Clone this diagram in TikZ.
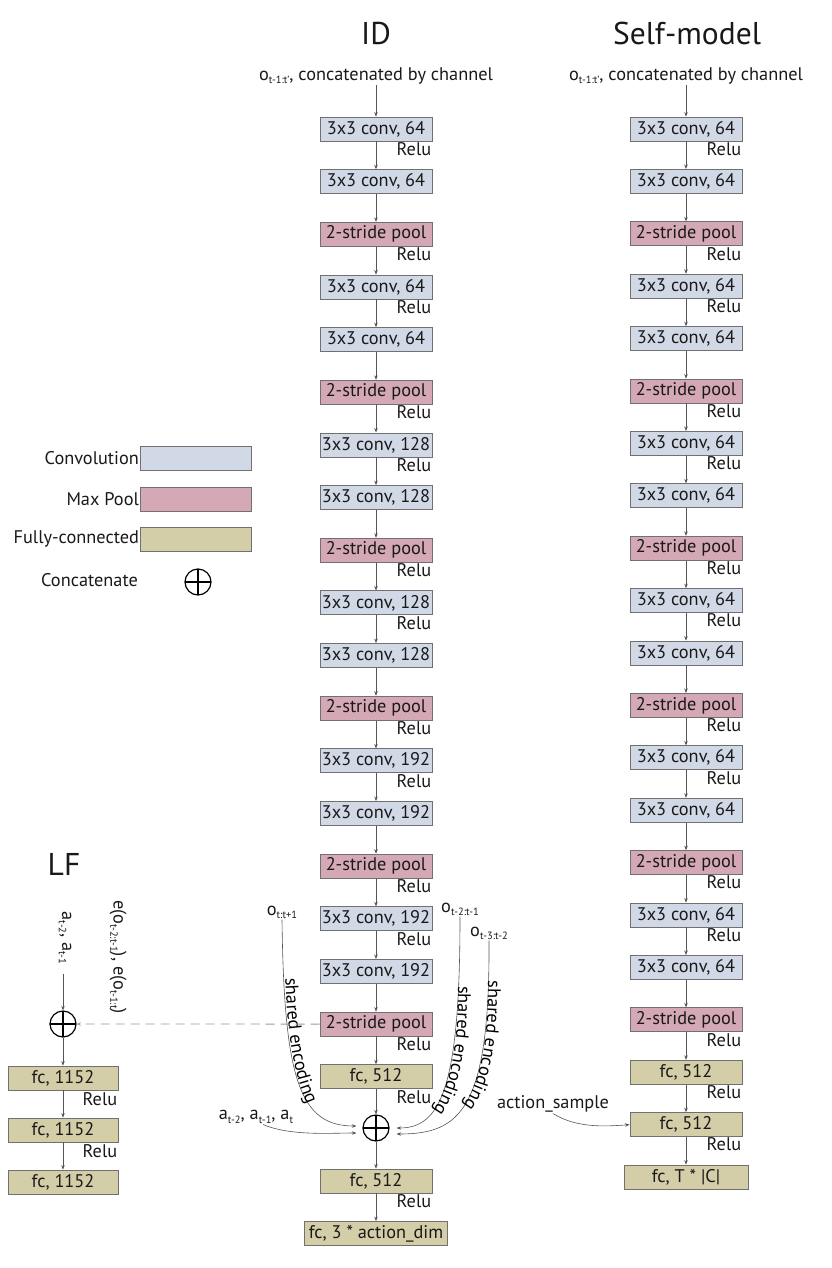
\documentclass[tikz,border=0pt]{standalone}
\usepackage{fontspec}
\setmainfont{PT Sans}
\usetikzlibrary{arrows.meta,decorations.text,calc}
\definecolor{convcol}{HTML}{D1D9E6}
\definecolor{poolcol}{HTML}{D4A8B5}
\definecolor{fccol}{HTML}{D3CDA8}
\definecolor{bordcol}{HTML}{707070}
\definecolor{arrcol}{HTML}{555555}
\definecolor{dashcol}{HTML}{9A9A9A}
\newcommand{\bxfont}{\fontsize{18.3}{21}\selectfont}
\newcommand{\hdfont}{\fontsize{31.5}{36}\selectfont}
\newcommand{\sbs}[1]{\raisebox{-0.35ex}{\fontsize{10.5}{12}\selectfont #1}}
\begin{document}
\begin{tikzpicture}[x=1pt,y=-1pt,
 blk/.style={draw=bordcol, line width=0.8pt, minimum width=112pt, minimum height=24pt, inner sep=0pt, font=\bxfont, text=black!90},
 conv/.style={blk, fill=convcol},
 pool/.style={blk, fill=poolcol},
 fcb/.style={blk, fill=fccol},
 relu/.style={font=\bxfont, inner sep=0pt, anchor=east, text=black!90},
 lbl/.style={font=\bxfont, inner sep=1pt, text=black!90},
 hdr/.style={font=\hdfont, inner sep=0pt, text=black!90},
 arr/.style={draw=arrcol, line width=0.6pt, -{Stealth[length=4.5pt,width=3.5pt]}},
 dasharr/.style={draw=dashcol, line width=0.9pt, dash pattern=on 9pt off 6pt, -{Stealth[length=4.5pt,width=3.5pt]}},
 cat/.style={circle, draw=black, line width=1.2pt, minimum size=26pt, inner sep=0pt,
   path picture={\draw[line width=1.2pt] (path picture bounding box.north) -- (path picture bounding box.south)
     (path picture bounding box.west) -- (path picture bounding box.east);}},
 enc/.style={decorate, decoration={text along path, text={|\bxfont|shared encoding}, text align=center}},
]
\useasboundingbox (0,0) rectangle (831,1268);

% ---------- headers ----------
\node[hdr] (hid) at (376,33) {ID};
\node[hdr] (hsm) at (687,33) {Self-model};
\node[hdr] (hlf) at (64,864) {LF};

% ---------- legend ----------
\node[blk, fill=convcol, minimum width=111pt] (lgc) at (196,458) {};
\node[blk, fill=poolcol, minimum width=111pt] (lgp) at (196,499) {};
\node[blk, fill=fccol, minimum width=111pt] (lgf) at (196,539) {};
\node[lbl, anchor=east] (lgct) at (lgc.west) {Convolution};
\node[lbl, anchor=east] (lgpt) at (lgp.west) {Max Pool};
\node[lbl, anchor=east] (lgft) at (lgf.west) {Fully-connected};
\node[cat] (lgcat) at (198,582) {};
\node[lbl, anchor=east] (lgcatt) at (139,580) {Concatenate};

% ---------- ID column ----------
\node[lbl] (idin) at (376,76) {o\sbs{t-1:t'}, concatenated by channel};
\node[conv] (id1) at (376,129) {3x3 conv, 64};
\node[conv] (id2) at (376,181.65) {3x3 conv, 64};
\node[pool] (id3) at (376,234.3) {2-stride pool};
\node[conv] (id4) at (376,286.95) {3x3 conv, 64};
\node[conv] (id5) at (376,339.6) {3x3 conv, 64};
\node[pool] (id6) at (376,392.25) {2-stride pool};
\node[conv] (id7) at (376,444.9) {3x3 conv, 128};
\node[conv] (id8) at (376,497.55) {3x3 conv, 128};
\node[pool] (id9) at (376,550.2) {2-stride pool};
\node[conv] (id10) at (376,602.85) {3x3 conv, 128};
\node[conv] (id11) at (376,655.5) {3x3 conv, 128};
\node[pool] (id12) at (376,708.15) {2-stride pool};
\node[conv] (id13) at (376,760.8) {3x3 conv, 192};
\node[conv] (id14) at (376,813.45) {3x3 conv, 192};
\node[pool] (id15) at (376,866.1) {2-stride pool};
\node[conv] (id16) at (376,918.75) {3x3 conv, 192};
\node[conv] (id17) at (376,971.4) {3x3 conv, 192};
\node[pool] (id18) at (376,1024.05) {2-stride pool};
\node[fcb] (id19) at (376,1076.7) {fc, 512};
\node[cat] (idp) at (376,1128) {};
\node[fcb] (id20) at (376,1181) {fc, 512};
\node[fcb, minimum width=143pt] (id21) at (376,1233.5) {fc, 3 * action\_dim};

\draw[arr] (idin) -- (id1);
\foreach \a/\b in {1/2,2/3,3/4,4/5,5/6,6/7,7/8,8/9,9/10,10/11,11/12,12/13,13/14,14/15,15/16,16/17,17/18,18/19,20/21}
  \draw[arr] (id\a) -- (id\b);
\draw[arr] (id19) -- (idp);
\draw[arr] (idp) -- (id20);
\foreach \a in {1,3,4,6,7,9,10,12,13,15,16,18,19,20}
  \node[relu] at ([xshift=-1pt,yshift=-20pt]id\a.east) {Relu};

% ---------- inputs to the ID concatenation ----------
\node[lbl] (ott1) at (282,912) {o\sbs{t:t+1}};
\node[lbl] (ot21) at (460,909) {o\sbs{t-2:t-1}};
\node[lbl] (ot32) at (489,933) {o\sbs{t-3:t-2}};
\node[lbl] (aact) at (256,1117) {a\sbs{t-2}, a\sbs{t-1}, a\sbs{t}};
\coordinate (pl1) at ([xshift=-6pt,yshift=2pt]idp.west);
\coordinate (pl2) at ([xshift=-6pt,yshift=-5pt]idp.west);
\coordinate (pr1) at ([xshift=7pt,yshift=0pt]idp.east);
\coordinate (pr2) at ([xshift=7pt,yshift=-6pt]idp.east);
\draw[arr] (ott1.south) .. controls (284,1080) and (300,1126) .. (pl1);
\draw[arr] ([xshift=7pt]aact.south) .. controls (290,1136) and (330,1133) .. (pl2);
\draw[arr] (ot21.south) .. controls (460,1090) and (440,1128) .. (pr1);
\draw[arr] (ot32.south) .. controls (490,1110) and (460,1134) .. (pr2);
\path[enc] (285,970) .. controls (287,1040) and (296,1085) .. (311,1112);
\path[enc] (458,978) .. controls (459,1040) and (452,1090) .. (428,1117);
\path[enc] (488,972) .. controls (489,1040) and (481,1090) .. (457,1112);

% ---------- LF ----------
\node[lbl, rotate=-90] (lfa) at (65,938) {a\sbs{t-2}, a\sbs{t-1}};
\node[lbl, rotate=-90] (lfe) at (118,957) {e(o\sbs{t-2:t-1}), e(o\sbs{t-1:t})};
\node[cat] (lfp) at (63,1024) {};
\node[fcb, minimum width=110pt] (lf1) at (63,1078) {fc, 1152};
\node[fcb, minimum width=110pt] (lf2) at (63,1130) {fc, 1152};
\node[fcb, minimum width=110pt] (lf3) at (63,1182) {fc, 1152};
\draw[arr] ([yshift=-8pt]lfa.east -| lfp.north) -- (lfp.north);
\draw[dasharr] (id18.west) -- (lfp.east);
\draw[arr] (lfp) -- (lf1);
\draw[arr] (lf1) -- (lf2);
\draw[arr] (lf2) -- (lf3);
\node[relu] at ([xshift=-1pt,yshift=-21pt]lf1.east) {Relu};
\node[relu] at ([xshift=-1pt,yshift=-21pt]lf2.east) {Relu};

% ---------- Self-model column ----------
\node[lbl] (smin) at (686,76) {o\sbs{t-1:t'}, concatenated by channel};
\node[conv] (sm1) at (686,129) {3x3 conv, 64};
\node[conv] (sm2) at (686,181.4) {3x3 conv, 64};
\node[pool] (sm3) at (686,233.8) {2-stride pool};
\node[conv] (sm4) at (686,286.2) {3x3 conv, 64};
\node[conv] (sm5) at (686,338.6) {3x3 conv, 64};
\node[pool] (sm6) at (686,391) {2-stride pool};
\node[conv] (sm7) at (686,443.4) {3x3 conv, 64};
\node[conv] (sm8) at (686,495.8) {3x3 conv, 64};
\node[pool] (sm9) at (686,548.2) {2-stride pool};
\node[conv] (sm10) at (686,600.6) {3x3 conv, 64};
\node[conv] (sm11) at (686,653) {3x3 conv, 64};
\node[pool] (sm12) at (686,705.4) {2-stride pool};
\node[conv] (sm13) at (686,757.8) {3x3 conv, 64};
\node[conv] (sm14) at (686,810.2) {3x3 conv, 64};
\node[pool] (sm15) at (686,862.6) {2-stride pool};
\node[conv] (sm16) at (686,915) {3x3 conv, 64};
\node[conv] (sm17) at (686,967.4) {3x3 conv, 64};
\node[pool] (sm18) at (686,1019.8) {2-stride pool};
\node[fcb] (sm19) at (686,1072.2) {fc, 512};
\node[fcb] (sm20) at (686,1124.6) {fc, 512};
\node[fcb, minimum width=124pt] (sm21) at (686,1177) {fc, T * |C|};
\draw[arr] (smin) -- (sm1);
\foreach \a/\b in {1/2,2/3,3/4,4/5,5/6,6/7,7/8,8/9,9/10,10/11,11/12,12/13,13/14,14/15,15/16,16/17,17/18,18/19,19/20,20/21}
  \draw[arr] (sm\a) -- (sm\b);
\foreach \a in {1,3,4,6,7,9,10,12,13,15,16,18,19,20}
  \node[relu] at ([xshift=-1pt,yshift=-20pt]sm\a.east) {Relu};
\node[lbl] (asamp) at (553,1104) {action\_sample};
\draw[arr] (asamp.south) .. controls (575,1127) and (600,1127) .. (sm20.west);
\end{tikzpicture}
\end{document}
